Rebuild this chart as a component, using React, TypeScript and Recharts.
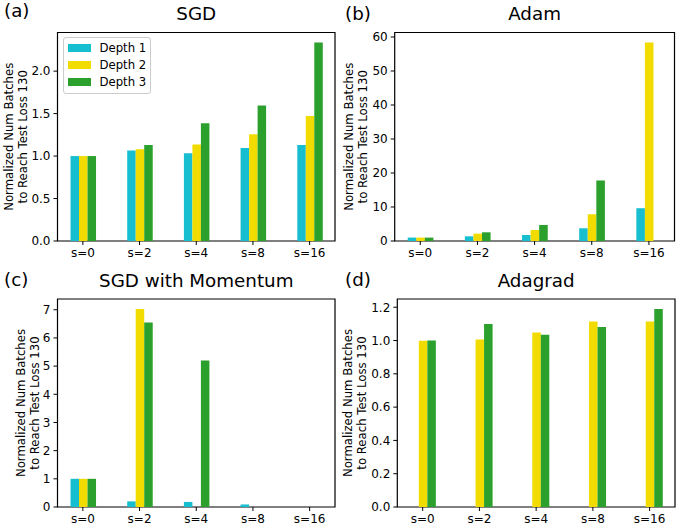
import React from 'react';
import { Bar, BarChart, Legend, ReferenceArea, XAxis, YAxis } from 'recharts';

const FIG_W = 685;
const FIG_H = 529;
const FONT = '"DejaVu Sans", Verdana, sans-serif';
const TEXT_SIZE = 11.7;
const TICK_SIZE = 12;

const steps = ['s=0', 's=2', 's=4', 's=8', 's=16'];
const depthNames = ['Depth 1', 'Depth 2', 'Depth 3'];
const depthColors = ['#17becf', '#f2dc00', '#2ca02c'];

// (a) SGD
const sgdDepth1 = [1.0, 1.065, 1.033, 1.096, 1.13];
const sgdDepth2 = [1.0, 1.08, 1.136, 1.257, 1.473];
const sgdDepth3 = [1.0, 1.13, 1.387, 1.595, 2.338];
const sgdTicks = [0, 0.5, 1.0, 1.5, 2.0];

// (b) Adam
const adamDepth1 = [1.0, 1.38, 1.77, 3.74, 9.64];
const adamDepth2 = [1.0, 2.16, 3.24, 7.87, 58.4];
const adamDepth3 = [1.0, 2.56, 4.72, 17.8, null];
const adamTicks = [0, 10, 20, 30, 40, 50, 60];

// (c) SGD with Momentum
const momDepth1 = [1.0, 0.2, 0.18, 0.09, null];
const momDepth2 = [1.0, 7.03, null, null, null];
const momDepth3 = [1.0, 6.55, 5.2, null, null];
const momTicks = [0, 1, 2, 3, 4, 5, 6, 7];

// (d) Adagrad
const adagradDepth1 = [null, null, null, null, null];
const adagradDepth2 = [0.998, 1.006, 1.048, 1.114, 1.114];
const adagradDepth3 = [1.0, 1.1, 1.034, 1.082, 1.19];
const adagradTicks = [0, 0.2, 0.4, 0.6, 0.8, 1.0, 1.2];

const Y_AXIS_W = 40;
const X_AXIS_H = 30;
const X_DOMAIN: [number, number] = [-0.4475, 4.4475];

type Series = ReadonlyArray<number | null>;

type PanelSpec = {
  letter: string;
  title: string;
  depths: readonly [Series, Series, Series];
  ticks: readonly number[];
  decimals: number;
  plot: { l: number; r: number; t: number; b: number };
  labelBaselines: [number, number];
  letterPos: [number, number];
  titleBaseline: number;
  legend?: boolean;
};

const panels: PanelSpec[] = [
  {
    letter: '(a)',
    title: 'SGD',
    depths: [sgdDepth1, sgdDepth2, sgdDepth3],
    ticks: sgdTicks,
    decimals: 1,
    plot: { l: 57.5, r: 335, t: 32.5, b: 241 },
    labelBaselines: [13, 27],
    letterPos: [4, 17],
    titleBaseline: 20,
    legend: true,
  },
  {
    letter: '(b)',
    title: 'Adam',
    depths: [adamDepth1, adamDepth2, adamDepth3],
    ticks: adamTicks,
    decimals: 0,
    plot: { l: 394.7, r: 674.5, t: 32.5, b: 241 },
    labelBaselines: [353, 367],
    letterPos: [345, 20],
    titleBaseline: 20,
  },
  {
    letter: '(c)',
    title: 'SGD with Momentum',
    depths: [momDepth1, momDepth2, momDepth3],
    ticks: momTicks,
    decimals: 0,
    plot: { l: 57.5, r: 335, t: 299, b: 507 },
    labelBaselines: [24.5, 38.5],
    letterPos: [4, 286],
    titleBaseline: 286.5,
  },
  {
    letter: '(d)',
    title: 'Adagrad',
    depths: [adagradDepth1, adagradDepth2, adagradDepth3],
    ticks: adagradTicks,
    decimals: 1,
    plot: { l: 397.3, r: 675, t: 299, b: 507 },
    labelBaselines: [352, 366],
    letterPos: [345, 286],
    titleBaseline: 286.5,
  },
];

function DepthLegend({ payload }: { payload?: ReadonlyArray<{ value?: string; color?: string }> }) {
  return (
    <div
      style={{
        boxSizing: 'border-box',
        width: 88,
        height: 57,
        border: '1px solid #cccccc',
        borderRadius: 3,
        background: 'rgba(255,255,255,0.8)',
        padding: '1.5px 0 2px 3.5px',
        fontFamily: FONT,
        fontSize: TEXT_SIZE,
        color: '#000',
        whiteSpace: 'nowrap',
      }}
    >
      {(payload ?? []).map((entry) => (
        <div key={entry.value} style={{ display: 'flex', alignItems: 'center', height: 17, whiteSpace: 'nowrap' }}>
          <span
            style={{
              display: 'inline-block',
              flex: '0 0 23px',
              width: 23,
              height: 8,
              background: entry.color,
              marginRight: 9,
            }}
          />
          <span style={{ flex: '0 0 auto', whiteSpace: 'nowrap' }}>{entry.value}</span>
        </div>
      ))}
    </div>
  );
}

function Panel({ spec }: { spec: PanelSpec }) {
  const { plot } = spec;
  const data = steps.map((step, i) => ({
    x: i,
    d1: spec.depths[0][i],
    d2: spec.depths[1][i],
    d3: spec.depths[2][i],
  }));
  const maxValue = Math.max(...spec.depths.flat().map((v) => v ?? 0));
  const yMax = maxValue * 1.05;
  const pxPerUnit = (plot.r - plot.l) / (X_DOMAIN[1] - X_DOMAIN[0]);
  const barSize = 0.15 * pxPerUnit;
  const cy = (plot.t + plot.b) / 2;
  const tickStyle = { fill: '#000', fontSize: TICK_SIZE, fontFamily: FONT };

  return (
    <div style={{ position: 'absolute', left: 0, top: 0 }}>
      <BarChart
        width={FIG_W}
        height={FIG_H}
        data={data}
        barGap={0}
        barSize={barSize}
        margin={{
          top: plot.t,
          left: plot.l - Y_AXIS_W,
          right: FIG_W - plot.r,
          bottom: FIG_H - plot.b - X_AXIS_H,
        }}
      >
        <XAxis
          type="number"
          dataKey="x"
          domain={X_DOMAIN}
          ticks={[0, 1, 2, 3, 4]}
          interval={0}
          height={X_AXIS_H}
          axisLine={false}
          tickLine={{ stroke: '#000' }}
          tickSize={4}
          tickMargin={3}
          tick={tickStyle}
          tickFormatter={(v: number) => steps[v] ?? ''}
        />
        <YAxis
          type="number"
          domain={[0, yMax]}
          ticks={[...spec.ticks]}
          interval={0}
          width={Y_AXIS_W}
          axisLine={false}
          tickLine={{ stroke: '#000' }}
          tickSize={4}
          tickMargin={3}
          tick={tickStyle}
          tickFormatter={(v: number) => v.toFixed(spec.decimals)}
          label={{
            content: () => (
              <g fontFamily={FONT} fontSize={TEXT_SIZE} fill="#000">
                <text transform={`translate(${spec.labelBaselines[0]},${cy}) rotate(-90)`} textAnchor="middle">
                  Normalized Num Batches
                </text>
                <text transform={`translate(${spec.labelBaselines[1]},${cy}) rotate(-90)`} textAnchor="middle">
                  to Reach Test Loss 130
                </text>
              </g>
            ),
          }}
        />
        {spec.legend && (
          <Legend
            layout="vertical"
            align="center"
            verticalAlign="middle"
            wrapperStyle={{ left: 63, top: 37, width: 88, height: 57 }}
            content={(props: any) => <DepthLegend payload={props.payload} />}
          />
        )}
        {(['d1', 'd2', 'd3'] as const).map((key, i) => (
          <Bar
            key={key}
            dataKey={key}
            name={depthNames[i]}
            fill={depthColors[i]}
            legendType="rect"
            isAnimationActive={false}
          />
        ))}
        <ReferenceArea
          x1={X_DOMAIN[0]}
          x2={X_DOMAIN[1]}
          y1={0}
          y2={yMax}
          fill="none"
          fillOpacity={0}
          stroke="#000"
          strokeWidth={1.2}
          strokeOpacity={1}
        />
      </BarChart>
    </div>
  );
}

export default function App() {
  return (
    <div style={{ position: 'absolute', left: 0, top: 0, width: FIG_W, height: FIG_H, background: '#fff' }}>
      {panels.map((spec) => (
        <Panel key={spec.letter} spec={spec} />
      ))}
      <svg
        width={FIG_W}
        height={FIG_H}
        style={{ position: 'absolute', left: 0, top: 0, pointerEvents: 'none' }}
        fontFamily={FONT}
      >
        {panels.map((spec) => (
          <g key={spec.letter} fill="#000" fontSize={18.3}>
            <text x={spec.letterPos[0]} y={spec.letterPos[1]}>
              {spec.letter}
            </text>
            <text x={(spec.plot.l + spec.plot.r) / 2} y={spec.titleBaseline} textAnchor="middle">
              {spec.title}
            </text>
          </g>
        ))}
      </svg>
    </div>
  );
}
